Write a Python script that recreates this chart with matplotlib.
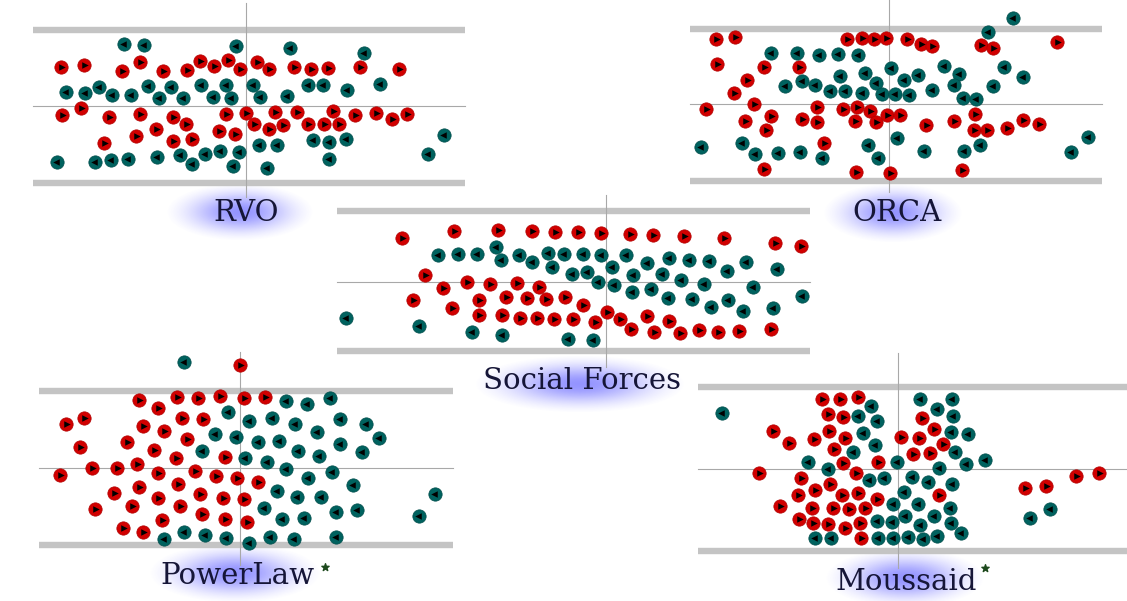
import numpy as np
import matplotlib.pyplot as plt

W, H = 1127, 601

# agent positions per model, in corridor coordinates (pixels, origin at the cross)
rvo_red = np.array([
    (-185, 39), (-162, 41), (-124, 35), (-106, 44), (-83, 35), (-59, 36), (-46, 45), (-32, 40),
    (-18, 46), (-6, 37), (11, 44), (23, 37), (48, 39), (65, 37), (82, 38), (114, 39), (153, 37),
    (-184, -9), (-165, -2), (-137, -11), (-106, -8), (-73, -11), (-60, -18), (-90, -23),
    (-110, -30), (-73, -35), (-54, -33), (-142, -37), (-27, -25), (-20, -8), (-11, -28), (0, -7),
    (29, -6), (51, -6), (87, -5), (109, -9), (130, -7), (146, -13), (161, -8), (8, -18),
    (23, -23), (37, -19), (62, -18), (78, -18), (93, -18)])
rvo_teal = np.array([
    (-122, 62), (-102, 61), (-10, 60), (44, 58), (118, 53), (-180, 14), (-161, 13), (-147, 19),
    (-134, 11), (-115, 11), (-98, 20), (-87, 8), (-75, 19), (-63, 8), (-45, 21), (-33, 9),
    (-20, 21), (-15, 8), (7, 21), (14, 9), (41, 10), (62, 21), (77, 21), (101, 16), (134, 22),
    (-189, -56), (-151, -56), (-135, -54), (-118, -53), (-89, -51), (-66, -49), (-54, -58),
    (-41, -48), (-26, -45), (-7, -46), (-13, -60), (13, -39), (31, -39), (67, -34), (83, -36),
    (100, -33), (83, -53), (21, -62), (198, -29), (182, -48)])

orca_red = np.array([
    (-173, 65), (-154, 67), (-172, 40), (-125, 37), (-90, 37), (-142, 24), (-155, 11), (-135, 0),
    (-183, -5), (-118, -12), (-144, -17), (-123, -26), (-87, -15), (-72, -3), (-72, -18),
    (-65, -39), (-125, -65), (-42, 65), (-27, 66), (-15, 65), (-3, 66), (-46, -5), (-32, -3),
    (-19, -7), (-34, -17), (-13, -18), (-2, -11), (-33, -68), (1, -69), (18, 65), (32, 60),
    (43, 58), (92, 59), (104, 56), (168, 62), (11, -11), (37, -21), (65, -17), (86, -10),
    (85, -26), (98, -26), (118, -24), (134, -16), (150, -20), (73, -66)])
orca_teal = np.array([
    (-118, 51), (-92, 51), (-70, 49), (-51, 50), (-31, 49), (2, 36), (-49, 28), (-24, 31),
    (-104, 18), (-87, 23), (-74, 19), (-59, 13), (-44, 13), (-27, 11), (-13, 21), (-7, 10),
    (6, 10), (20, 9), (-188, -43), (-147, -39), (-134, -50), (-111, -49), (-89, -48), (-67, -54),
    (-21, -41), (-11, -54), (8, -34), (124, 86), (99, 72), (15, 24), (29, 29), (55, 38),
    (70, 30), (65, 19), (43, 14), (74, 6), (87, 5), (104, 18), (115, 37), (134, 27), (35, -47),
    (75, -47), (91, -41), (182, -48), (199, -33)])

social_red = np.array([
    (-204, 44), (-152, 51), (-108, 52), (-74, 51), (-51, 50), (-28, 50), (-5, 49), (24, 48),
    (47, 47), (78, 46), (118, 44), (169, 39), (195, 36), (-181, 7), (-163, -6), (-139, 0),
    (-116, -2), (-89, -1), (-67, -5), (-193, -18), (-127, -18), (-100, -15), (-79, -16),
    (-60, -17), (-41, -15), (-154, -26), (-127, -33), (-104, -33), (-86, -36), (-69, -36),
    (-52, -37), (-33, -37), (-23, -23), (1, -30), (14, -37), (-11, -40), (41, -34), (63, -39),
    (25, -47), (48, -50), (74, -51), (93, -48), (112, -50), (133, -49), (165, -47)])
social_teal = np.array([
    (-260, -36), (-187, -44), (-134, -50), (-104, -53), (-38, -57), (-13, -58), (-168, 27),
    (-148, 28), (-129, 28), (-110, 35), (-105, 22), (-87, 27), (-74, 20), (-58, 29), (-54, 15),
    (-42, 28), (-34, 8), (-23, 28), (-5, 27), (20, 27), (-19, 10), (-8, 0), (6, 15), (8, -3),
    (27, 7), (26, -10), (41, 19), (45, -7), (56, 8), (63, 24), (62, -16), (75, 2), (83, 22),
    (86, -17), (98, -2), (103, 21), (105, -25), (121, 11), (122, -18), (140, 20), (137, -29),
    (147, -5), (171, 13), (167, -26), (196, -14)])

powerlaw_red = np.array([
    (-174, 44), (-156, 50), (-160, 21), (-180, -7), (-148, 0), (-123, 0), (-103, 4), (-113, 26),
    (-97, 42), (-101, 68), (-82, 60), (-76, 37), (-86, 18), (-63, 71), (-58, 50), (-53, 29),
    (-64, 10), (-42, 70), (-37, 49), (-20, 72), (4, 70), (25, 71), (-15, 11), (-82, -5),
    (-45, -3), (-24, -8), (-3, -10), (18, -14), (-62, -16), (-101, -19), (-126, -25), (-82, -30),
    (-60, -38), (-40, -26), (-17, -30), (4, -31), (-108, -38), (-145, -41), (-38, -46),
    (-15, -51), (7, -54), (-78, -52), (-117, -60), (-97, -64), (0, 103)])
powerlaw_teal = np.array([
    (-56, 106), (-12, 56), (-25, 34), (-4, 31), (-38, 17), (-76, -71), (-56, -64), (-35, -67),
    (-14, -70), (9, -75), (46, 67), (67, 64), (90, 70), (9, 47), (32, 50), (55, 44), (77, 36),
    (100, 49), (126, 44), (139, 30), (18, 26), (39, 27), (58, 17), (79, 12), (100, 24),
    (122, 16), (5, 10), (27, 6), (46, -1), (68, -10), (92, -4), (113, -17), (37, -23), (57, -29),
    (81, -29), (24, -40), (42, -51), (64, -50), (96, -44), (117, -42), (195, -26), (179, -48),
    (30, -69), (54, -71), (96, -69)])

moussaid_red = np.array([
    (-76, 70), (-58, 70), (-40, 72), (-70, 55), (-55, 52), (-125, 38), (-109, 26), (-84, 30),
    (-69, 38), (-53, 31), (-64, 20), (-55, 6), (-20, 7), (3, 32), (-139, -4), (-97, -9),
    (-42, -4), (-68, -15), (-83, -21), (-100, -26), (-56, -26), (-40, -24), (-21, -30),
    (-118, -37), (-86, -39), (-65, -39), (-49, -40), (-33, -39), (-99, -50), (-85, -54),
    (-70, -55), (-53, -59), (-38, -54), (-37, -69), (24, 51), (36, 40), (21, 31), (45, 25),
    (15, 15), (32, 16), (41, -26), (127, -19), (148, -17), (178, -7), (201, -4)])
moussaid_teal = np.array([
    (-176, 56), (-27, 63), (-40, 53), (-21, 48), (-35, 36), (-23, 24), (-45, 17), (-90, 7),
    (-70, 0), (-29, -11), (-14, -9), (-1, 7), (-5, -35), (-21, -52), (-6, -53), (-83, -69),
    (-67, -69), (-20, -69), (-5, -69), (22, 70), (54, 70), (39, 60), (55, 53), (53, 37),
    (70, 35), (57, 17), (68, 5), (87, 9), (41, 1), (14, -8), (30, -13), (54, -15), (6, -23),
    (20, -35), (52, -39), (7, -47), (36, -47), (22, -56), (53, -54), (63, -64), (10, -68),
    (25, -70), (39, -67), (132, -49), (152, -40)])

labels = ['RVO', 'ORCA', 'Social Forces', 'PowerLaw', 'Moussaid']
starred = [False, False, False, True, True]

RED = '#d10000'
TEAL = '#00625f'
BAR = '#c4c4c4'
LINE = '#a8a8a8'
INK = '#161638'

fig = plt.figure(figsize=(W / 100, H / 100), dpi=100)


def glow(ax, gx, gy, a, b):
    # soft blue halo behind a label
    xs = np.linspace(-1, 1, 200)
    ys = np.linspace(-1, 1, 100)
    xx, yy = np.meshgrid(xs, ys)
    d2 = xx ** 2 + yy ** 2
    fall = np.clip((np.exp(-2.2 * d2) - np.exp(-2.2)) / (1 - np.exp(-2.2)), 0, 1)
    img = np.zeros((100, 200, 4))
    img[..., 0] = 0.3
    img[..., 1] = 0.3
    img[..., 2] = 1.0
    img[..., 3] = 0.6 * fall
    ax.imshow(img, extent=[gx - a, gx + a, gy - b, gy + b], origin='lower',
              aspect='auto', interpolation='bilinear', zorder=0)


def panel(cx, cy, red, teal, corridor, vline, name, text_xy, glow_box, star_xy=None):
    ax = fig.add_axes([(cx - 300) / W, (H - cy - 150) / H, 600 / W, 300 / H])
    x0, x1, ytop, ybot = corridor
    ax.plot([x0, x1], [ytop, ytop], color=BAR, lw=4.6, solid_capstyle='butt', zorder=1)
    ax.plot([x0, x1], [ybot, ybot], color=BAR, lw=4.6, solid_capstyle='butt', zorder=1)
    ax.plot([x0, x1], [0, 0], color=LINE, lw=0.8, zorder=1)
    ax.plot([0, 0], list(vline), color=LINE, lw=0.8, zorder=1)
    glow(ax, *glow_box)
    ax.text(text_xy[0], text_xy[1], name, ha='center', va='center', fontsize=21,
            family='DejaVu Serif', color=INK, zorder=3)
    if star_xy is not None:
        ax.scatter([star_xy[0]], [star_xy[1]], marker='*', s=30, color='#1e4a1e', zorder=3)
    ax.scatter(red[:, 0], red[:, 1], s=92, color=RED, edgecolors='#b00000', linewidths=0.5, zorder=4)
    ax.scatter(red[:, 0] + 1, red[:, 1], s=22, marker='>', color='black', linewidths=0, zorder=5)
    ax.scatter(teal[:, 0], teal[:, 1], s=92, color=TEAL, edgecolors='#004c4a', linewidths=0.5, zorder=4)
    ax.scatter(teal[:, 0] - 1, teal[:, 1], s=22, marker='<', color='black', linewidths=0, zorder=5)
    ax.set_xlim(-300, 300)
    ax.set_ylim(-150, 150)
    ax.axis('off')
    return ax


panel(246, 106, rvo_red, rvo_teal, (-213, 219, 76, -77), (103, -91),
      labels[0], (0, -107), (-6, -106, 74, 29))
panel(889, 104, orca_red, orca_teal, (-199, 213, 75, -77), (105, -88),
      labels[1], (8, -109), (4, -109, 70, 30))
panel(606, 282, social_red, social_teal, (-269, 204, 71, -69), (87, -85),
      labels[2], (-24, -99), (-26, -102, 106, 29))
panel(240, 468, powerlaw_red, powerlaw_teal, (-201, 213, 77, -77), (116, -97),
      labels[3], (-3, -108), (-5, -105, 86, 30), (85, -99) if starred[3] else None)
panel(898, 469, moussaid_red, moussaid_teal, (-200, 229, 82, -82), (116, -99),
      labels[4], (8, -113), (7, -109, 80, 30), (87, -99) if starred[4] else None)

fig.savefig('out.png', dpi=100)
